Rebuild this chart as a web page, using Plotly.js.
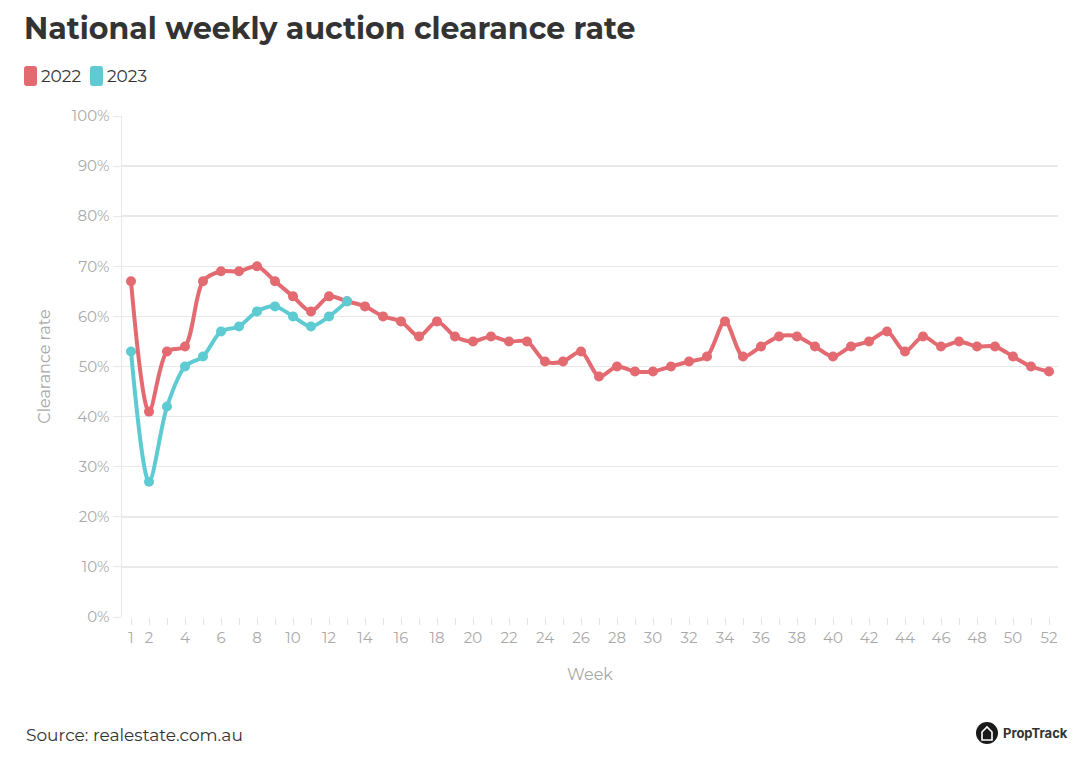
<!DOCTYPE html>
<html><head><meta charset="utf-8">
<script src="https://cdn.plot.ly/plotly-3.0.1.min.js"></script>
<style>html,body{margin:0;padding:0;background:#fff;}#chart{width:1080px;height:764px;}</style>
</head><body><div id="chart"></div>
<script>
const weeks2022 = [1,2,3,4,5,6,7,8,9,10,11,12,13,14,15,16,17,18,19,20,21,22,23,24,25,26,27,28,29,30,31,32,33,34,35,36,37,38,39,40,41,42,43,44,45,46,47,48,49,50,51,52];
const rate2022 = [67,41,53,54,67,69,69,70,67,64,61,64,63,62,60,59,56,59,56,55,56,55,55,51,51,53,48,50,49,49,50,51,52,59,52,54,56,56,54,52,54,55,57,53,56,54,55,54,54,52,50,49];
const weeks2023 = [1,2,3,4,5,6,7,8,9,10,11,12,13];
const rate2023 = [53,27,42,50,52,57,58,61,62,60,58,60,63];
const seriesNames = ['2022','2023'];
const colors = ['#E36A71','#5ECAD2'];
const tickWeeks = [1,2,4,6,8,10,12,14,16,18,20,22,24,26,28,30,32,34,36,38,40,42,44,46,48,50,52];
const yTicks = [0,10,20,30,40,50,60,70,80,90,100];

const font = "Montserrat, 'Open Sans', Lato, sans-serif";
const allWeeks = weeks2022;
const tickText = allWeeks.map(w => tickWeeks.includes(w) ? String(w) : '');

const mk = (x,y,name,c) => ({x:x,y:y,name:name,type:'scatter',mode:'lines+markers',
  line:{color:c,width:4,shape:'spline',smoothing:0.85},marker:{color:c,size:10},showlegend:false,
  hovertemplate:'%{y}%<extra>'+name+'</extra>'});

const data = [mk(weeks2022,rate2022,seriesNames[0],colors[0]), mk(weeks2023,rate2023,seriesNames[1],colors[1])];

const px = x => (x-122)/936, py = y => (617-y)/501;
function rrect(x0,y0,x1,y1,r){
  const P=(x,y)=>px(x)+','+py(y);
  return 'M '+P(x0+r,y0)+' L '+P(x1-r,y0)+' Q '+P(x1,y0)+' '+P(x1,y0+r)+' L '+P(x1,y1-r)+' Q '+P(x1,y1)+' '+P(x1-r,y1)+
    ' L '+P(x0+r,y1)+' Q '+P(x0,y1)+' '+P(x0,y1-r)+' L '+P(x0,y0+r)+' Q '+P(x0,y0)+' '+P(x0+r,y0)+' Z';
}

const layout = {
  width:1080,height:764,
  margin:{l:122,r:22,t:116,b:147},
  paper_bgcolor:'#fff',plot_bgcolor:'#fff',
  font:{family:font,color:'#333'},
  title:{text:'<b>National weekly auction clearance rate</b>',x:24/1080,xanchor:'left',y:1-28/764,yanchor:'middle',
    font:{family:font,size:30,color:'#333'}},
  xaxis:{range:[0.5,52.5],tickvals:allWeeks,ticktext:tickText,ticks:'outside',ticklen:7,tickcolor:'#e3e3e3',tickwidth:1,
    showgrid:false,zeroline:false,showline:false,tickfont:{size:15,color:'#a9a9a9'},
    title:{text:'Week',font:{size:16,color:'#a9a9a9'},standoff:22},fixedrange:true},
  yaxis:{range:[0,100],tickvals:yTicks,ticktext:yTicks.map(v=>v+'%'),showgrid:true,gridcolor:'#e9e9e9',gridwidth:1.5,
    zeroline:false,showline:true,linecolor:'#e9e9e9',linewidth:1.5,ticks:'outside',ticklen:8,tickcolor:'#e9e9e9',
    tickfont:{size:15,color:'#a9a9a9'},title:{text:'Clearance rate',font:{size:16,color:'#a9a9a9'},standoff:17},fixedrange:true},
  annotations:[
    {xref:'paper',yref:'paper',x:px(24),y:py(735),xanchor:'left',yanchor:'middle',showarrow:false,
     text:'Source: realestate.com.au',font:{size:17,color:'#333'}},
    {xref:'paper',yref:'paper',x:px(1001),y:py(733),xanchor:'left',yanchor:'middle',showarrow:false,
     text:'<b>PropTrack</b>',font:{size:13,color:'#333',family:"Inter, 'Open Sans', sans-serif"}},
    {xref:'paper',yref:'paper',x:px(39),y:py(76),xanchor:'left',yanchor:'middle',showarrow:false,
     text:'2022',font:{size:17,color:'#333'}},
    {xref:'paper',yref:'paper',x:px(105),y:py(76),xanchor:'left',yanchor:'middle',showarrow:false,
     text:'2023',font:{size:17,color:'#333'}}
  ],
  shapes:[
    {type:'path',xref:'paper',yref:'paper',path:rrect(24,66,37,86,3),fillcolor:colors[0],line:{width:0}},
    {type:'path',xref:'paper',yref:'paper',path:rrect(90,66,103,86,3),fillcolor:colors[1],line:{width:0}},
    {type:'circle',xref:'paper',yref:'paper',x0:px(976),x1:px(998),y0:py(744),y1:py(722),fillcolor:'#1a1a1a',line:{width:0}},
    {type:'path',xref:'paper',yref:'paper',
     path:'M '+px(982)+','+py(740)+' L '+px(982)+','+py(732)+' L '+px(987)+','+py(727)+' L '+px(992)+','+py(732)+' L '+px(992)+','+py(740)+' Z',
     fillcolor:'rgba(0,0,0,0)',line:{color:'#fff',width:1.6}}
  ]
};
Plotly.newPlot('chart',data,layout,{displayModeBar:false,staticPlot:true});
</script></body></html>
